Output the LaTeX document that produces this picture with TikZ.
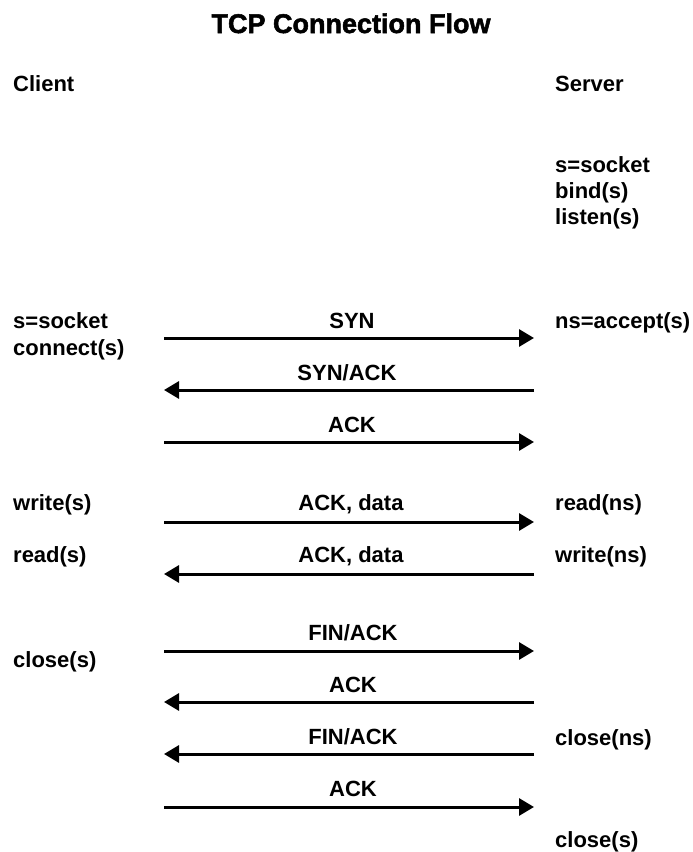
\documentclass[tikz,border=0pt]{standalone}
\usepackage{fontspec}
\setmainfont{Liberation Sans}
\newfontfamily\titlefont[FakeBold=2]{Liberation Sans Bold}
\usetikzlibrary{arrows.meta}
\begin{document}
\begin{tikzpicture}[x=1pt,y=-1pt,
  lbl/.style={inner sep=0pt,anchor=base west,font=\fontsize{22}{26}\selectfont\bfseries},
  msglbl/.style={inner sep=0pt,anchor=base,font=\fontsize{22}{26}\selectfont\bfseries},
  msg/.style={line width=3pt,-{Triangle[length=15pt,width=17pt]}}]
\useasboundingbox (0,0) rectangle (693,852);

% title
\node[inner sep=0pt,anchor=base,font=\fontsize{27}{30}\titlefont] (title) at (351,33) {TCP Connection Flow};

% column headings
\node[lbl] (client) at (13,91) {Client};
\node[lbl] (server) at (555,91) {Server};

% server setup calls
\node[lbl] (ssock) at (555,172) {s=socket};
\node[lbl] (sbind) at (555,198) {bind(s)};
\node[lbl] (slisten) at (555,224) {listen(s)};

% client calls
\node[lbl] (csock) at (13,328) {s=socket};
\node[lbl] (cconn) at (13,355) {connect(s)};
\node[lbl] (cwrite) at (13,510) {write(s)};
\node[lbl] (cread) at (13,562) {read(s)};
\node[lbl] (cclose) at (13,667) {close(s)};

% server calls
\node[lbl] (saccept) at (555,328) {ns=accept(s)};
\node[lbl] (sread) at (555,510) {read(ns)};
\node[lbl] (swrite) at (555,562) {write(ns)};
\node[lbl] (sclosens) at (555,745) {close(ns)};
\node[lbl] (sclose) at (555,847) {close(s)};

% message end points on both sides
\foreach \i/\y in {1/338,2/390,3/442,4/522,5/574,6/651,7/702,8/754,9/807}{
  \coordinate (c\i) at (164,\y);
  \coordinate (s\i) at (534,\y);
}

% message labels
\node[msglbl] (m1) at (352,328) {SYN};
\node[msglbl] (m2) at (347,380) {SYN/ACK};
\node[msglbl] (m3) at (352,432) {ACK};
\node[msglbl] (m4) at (351,510) {ACK, data};
\node[msglbl] (m5) at (351,562) {ACK, data};
\node[msglbl] (m6) at (353,640) {FIN/ACK};
\node[msglbl] (m7) at (353,692) {ACK};
\node[msglbl] (m8) at (353,744) {FIN/ACK};
\node[msglbl] (m9) at (353,796) {ACK};

% messages
\draw[msg] (c1) -- (s1);
\draw[msg] (s2) -- (c2);
\draw[msg] (c3) -- (s3);
\draw[msg] (c4) -- (s4);
\draw[msg] (s5) -- (c5);
\draw[msg] (c6) -- (s6);
\draw[msg] (s7) -- (c7);
\draw[msg] (s8) -- (c8);
\draw[msg] (c9) -- (s9);
\end{tikzpicture}
\end{document}
